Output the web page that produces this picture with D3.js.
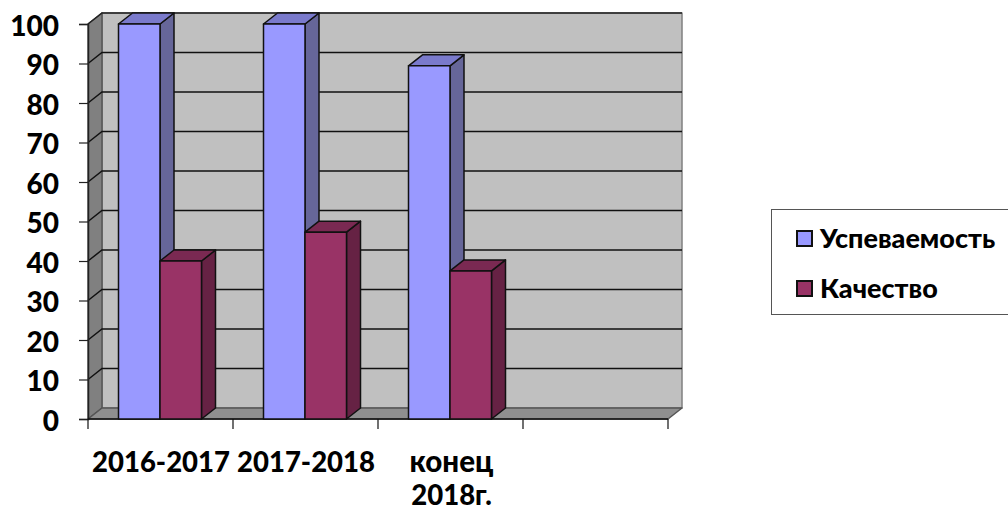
<!DOCTYPE html>
<html>
<head>
<meta charset="utf-8">
<script src="https://cdn.jsdelivr.net/npm/d3@7"></script>
<style>
html,body{margin:0;padding:0;background:#fff;overflow:hidden}
text{font-family:Lato,"Open Sans",sans-serif;font-weight:900;fill:#000}
</style>
</head>
<body>
<svg width="1008" height="511"></svg>
<script>
var categories=["2016-2017","2017-2018","конец 2018г.",""];
var seriesNames=["Успеваемость","Качество"];
var uspevaemost=[100,100,89.4];
var kachestvo=[40,47.3,37.5];
var yTicks=[0,10,20,30,40,50,60,70,80,90,100];

var colors=[
  {front:"#9999ff",side:"#666699",top:"#7a7acc"},
  {front:"#993366",side:"#662244",top:"#7a2952"}
];

var svg=d3.select("svg");
var dx=14, dy=-11; // 3d depth offset

var x=d3.scaleBand().domain(categories).range([88,668]).paddingInner(0).paddingOuter(0);
var y=d3.scaleLinear().domain([0,100]).range([419,24]);
var inner=d3.scaleBand().domain([0,1]).range([30.5,x.bandwidth()-31.5]);

function poly(pts,fill,stroke,sw){
  return svg.append("polygon")
    .attr("points",pts.map(function(p){return p.join(",");}).join(" "))
    .attr("fill",fill).attr("stroke",stroke).attr("stroke-width",sw).attr("stroke-linejoin","round");
}

var x0=x.range()[0], x1=x.range()[1];
// back wall, side wall, floor
poly([[x0+dx,y(100)+dy],[x1+dx,y(100)+dy],[x1+dx,y(0)+dy],[x0+dx,y(0)+dy]],"#c0c0c0","#808080",1.5);
poly([[x0,y(100)],[x0+dx,y(100)+dy],[x0+dx,y(0)+dy],[x0,y(0)]],"#808080","#555",1.5);
poly([[x0,y(0)],[x0+dx,y(0)+dy],[x1+dx,y(0)+dy],[x1,y(0)]],"#8f8f8f","#555",1.5);

// gridlines run along the side wall then the back wall
yTicks.forEach(function(t){
  if(t==0) return;
  svg.append("polyline")
    .attr("points",[[x0,y(t)],[x0+dx,y(t)+dy],[x1+dx,y(t)+dy]].map(function(p){return p.join(",");}).join(" "))
    .attr("fill","none").attr("stroke",t==100?"#222":"#111").attr("stroke-width",1.5);
});

// axes
var yAxis=d3.axisLeft(y).tickValues(yTicks).tickSize(9).tickPadding(20);
var gy=svg.append("g").attr("transform","translate("+x0+",0)").call(yAxis);
gy.select(".domain").attr("stroke","#222").attr("stroke-width",1.5);
gy.selectAll(".tick line").attr("stroke","#222").attr("stroke-width",1.2);
gy.selectAll("text").attr("font-size",28).attr("dy","0.4em").attr("fill","#000");

var xAxis=d3.axisBottom(x).tickSize(0).tickFormat("");
var gx=svg.append("g").attr("transform","translate(0,"+y(0)+")").call(xAxis);
gx.select(".domain").remove();
svg.append("line").attr("x1",x0).attr("x2",x1).attr("y1",y(0)).attr("y2",y(0)).attr("stroke","#111").attr("stroke-width",1.5);
d3.range(categories.length+1).forEach(function(i){
  var tx=x0+i*x.bandwidth();
  svg.append("line").attr("x1",tx).attr("x2",tx).attr("y1",y(0)).attr("y2",y(0)+10).attr("stroke","#111").attr("stroke-width",1.2);
});

// bars
[uspevaemost,kachestvo].forEach(function(vals,s){
  vals.forEach(function(v,i){
    var l=x(categories[i])+inner(s), r=l+inner.bandwidth(), t=y(v), b=y(0), c=colors[s];
    poly([[r,t],[r+dx,t+dy],[r+dx,b+dy],[r,b]],c.side,"#111",1.5);
    poly([[l,t],[l+dx,t+dy],[r+dx,t+dy],[r,t]],c.top,"#111",1.5);
    poly([[l,t],[r,t],[r,b],[l,b]],c.front,"#111",1.5);
  });
});

// category labels
var xLabels=[{t:["2016-2017"],x:161},{t:["2017-2018"],x:306},{t:["конец","2018г."],x:451.5}];
xLabels.forEach(function(d){
  d.t.forEach(function(line,i){
    svg.append("text").attr("x",d.x).attr("y",472+i*33).attr("text-anchor","middle")
      .attr("font-size",line=="конец"?29.5:27.5).text(line);
  });
});

// legend
svg.append("rect").attr("x",771.5).attr("y",209.5).attr("width",240).attr("height",105)
  .attr("fill","#fff").attr("stroke","#555").attr("stroke-width",1);
seriesNames.forEach(function(n,i){
  var ly=238+i*50;
  svg.append("rect").attr("x",797).attr("y",ly-7).attr("width",15).attr("height",15)
    .attr("fill",colors[i].front).attr("stroke","#111").attr("stroke-width",2);
  svg.append("text").attr("x",820).attr("y",ly+10).attr("font-size",27).text(n);
});
</script>
</body>
</html>
